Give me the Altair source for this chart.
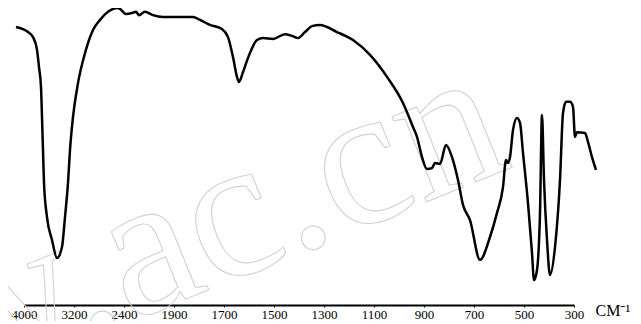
import altair as alt
import pandas as pd

# Tick labels of the (non-linear) wavenumber axis, cm^-1
tick_values = [4000, 3200, 2400, 1900, 1700, 1500, 1300, 1100, 900, 700, 500, 300]

# IR spectrum: wavenumber (cm^-1) and transmittance (%)
wavenumber = [4128, 3936, 3856, 3792, 3760, 3728, 3712, 3696, 3680, 3632, 3552, 3472,
              3392, 3344, 3296, 3264, 3216, 3136, 3024, 2896, 2784, 2656, 2512, 2464,
              2380, 2320, 2280, 2250, 2190, 2110, 2010, 1876, 1824, 1796, 1756, 1708,
              1684, 1664, 1648, 1640, 1624, 1604, 1568, 1544, 1504, 1456, 1428, 1404,
              1376, 1348, 1316, 1248, 1184, 1116, 1048, 984, 944, 928, 908, 888, 868,
              856, 836, 812, 788, 764, 744, 716, 676, 636, 608, 584, 572, 564, 556,
              544, 528, 516, 504, 484, 468, 460, 448, 436, 428, 420, 408, 396, 376,
              356, 344, 332, 316, 304, 296, 288, 256, 244, 228, 212]
transmittance = [93.6, 91.9, 90.2, 85.9, 80.1, 73.4, 63.3, 52.2, 41.1, 29.6, 21.9, 15.8,
                 19.5, 29.6, 41.1, 52.2, 63.3, 74.7, 84.8, 92.6, 96.0, 98.7, 100.0, 99.7,
                 98.0, 98.3, 98.7, 97.6, 98.7, 97.6, 97.0, 97.0, 97.0, 96.0, 94.3, 92.9,
                 90.2, 83.5, 76.8, 75.1, 78.4, 83.2, 89.2, 89.9, 89.6, 91.2, 90.6, 89.9,
                 91.9, 93.9, 94.3, 91.9, 89.2, 84.2, 76.8, 68.0, 59.9, 56.6, 49.8, 45.8,
                 46.1, 47.8, 47.5, 53.9, 49.8, 42.1, 33.7, 28.6, 15.2, 22.9, 31.0, 39.7,
                 48.8, 47.8, 49.8, 58.9, 63.0, 61.3, 51.2, 34.3, 17.5, 8.4, 11.8, 31.0,
                 64.0, 42.1, 21.9, 10.1, 19.5, 42.1, 64.6, 68.4, 68.4, 66.7, 56.6, 58.2,
                 57.9, 54.9, 49.8, 45.5]

watermark = ["ww.ac.cn"]

df = pd.DataFrame({"wn": wavenumber, "T": transmittance, "i": list(range(len(wavenumber)))})

# evenly spaced tick positions (pixels inside the plot area)
tick_pos = [4 + 50 * k for k in range(len(tick_values))]

xscale = alt.Scale(domain=tick_values, range=tick_pos, nice=False, zero=False)

wm = alt.Chart(pd.DataFrame({"t": watermark})).mark_text(
    angle=338, fontSize=200, font="Liberation Serif", fillOpacity=0,
    stroke="#d2d2d2", strokeWidth=1.1, align="right", baseline="alphabetic"
).encode(x=alt.value(495), y=alt.value(158), text="t:N")

line = alt.Chart(df).mark_line(color="black", strokeWidth=2.5, strokeJoin="round",
                               interpolate="monotone").encode(
    x=alt.X("wn:Q", scale=xscale,
            axis=alt.Axis(values=tick_values, title="CM⁻¹", titleX=575, titleY=5,
                          titleAlign="left", titleBaseline="middle", titleAngle=0,
                          titleFont="Liberation Serif", titleFontSize=16,
                          titleFontWeight="normal", titleColor="black",
                          labelFont="Liberation Serif", labelFontSize=13,
                          labelColor="black", labelPadding=1, tickSize=2,
                          tickColor="black", domainColor="black", domainWidth=2,
                          grid=False, labelOverlap=False, labelFlush=False,
                          format="d")),
    y=alt.Y("T:Q", scale=alt.Scale(domain=[0, 100]), axis=None),
    order="i:Q",
)

chart = alt.layer(wm, line).properties(
    width=572, height=297,
    padding={"left": 12, "top": 0, "right": 41, "bottom": 16},
    autosize=alt.AutoSizeParams(type="none"),
).configure_view(stroke=None)

chart.save("out.html", embed_options={"renderer": "svg", "actions": False})
